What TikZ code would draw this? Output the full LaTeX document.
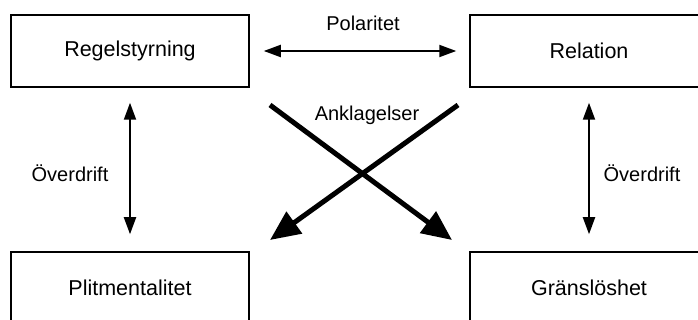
\documentclass[tikz,border=0pt]{standalone}
\usepackage{fontspec}
\setmainfont{Liberation Sans}
\usetikzlibrary{arrows.meta}
\begin{document}
\begin{tikzpicture}[x=1pt,y=-1pt,
  box/.style={draw=black,line width=1.5pt,minimum width=238pt,minimum height=72pt,inner sep=0pt,font=\fontsize{21.5}{24}\selectfont},
  lbl/.style={font=\fontsize{20}{23}\selectfont,inner sep=0pt},
  thin/.style={line width=2pt,{Triangle[length=17pt,width=12pt]}-{Triangle[length=17pt,width=12pt]}},
  thick/.style={line width=5pt,-{Triangle[length=30pt,width=26pt]}}]
\useasboundingbox (0,0) rectangle (698,320);
\node[box] (rl) at (130,51) {Regelstyrning};
\node[box] (rr) at (589,51) {Relation};
\node[box] (pl) at (130,288) {Plitmentalitet};
\node[box] (gr) at (589,288) {Gränslöshet};
\draw[thin,shorten <=14pt,shorten >=13pt] (rl.east) -- (rr.west);
\draw[thin,shorten <=15pt,shorten >=17pt] (rl.south) -- (pl.north);
\draw[thin,shorten <=15pt,shorten >=17pt] (rr.south) -- (gr.north);
\node[lbl] (pol) at (363,23) {Polaritet};
\node[lbl] (ov1) at (70,173) {Överdrift};
\node[lbl] (ov2) at (642,173) {Överdrift};
\node[lbl] (ank) at (367,115) {Anklagelser};
\coordinate (a1) at (270,105);
\coordinate (a2) at (452,240);
\coordinate (b1) at (458,105);
\coordinate (b2) at (270,240);
\draw[thick] (a1) -- (a2);
\draw[thick] (b1) -- (b2);
\end{tikzpicture}
\end{document}
